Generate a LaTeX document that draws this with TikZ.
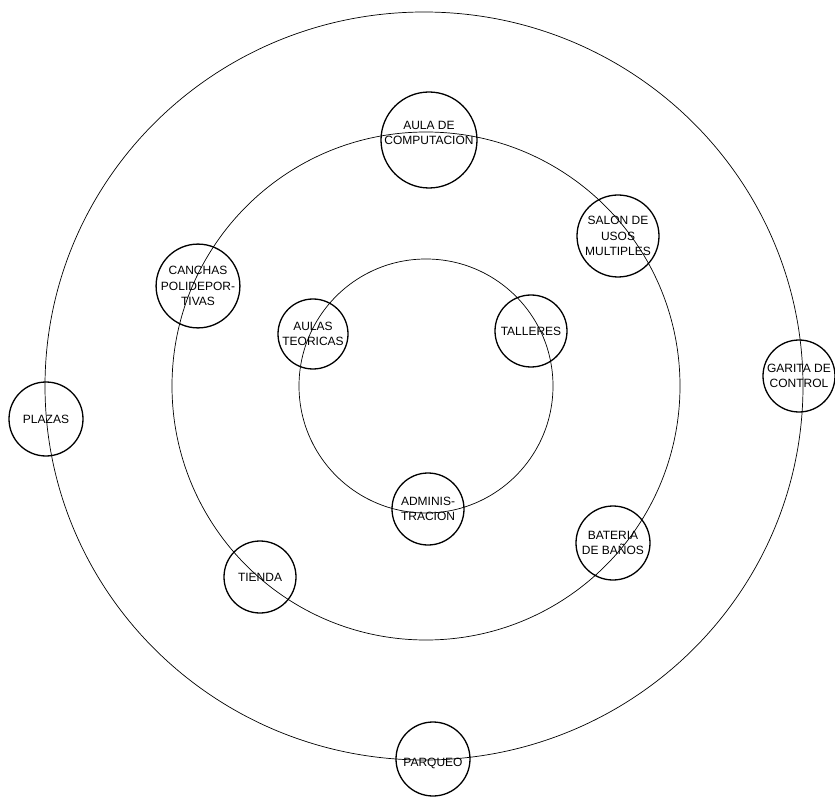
\documentclass[tikz,border=0pt]{standalone}
\usepackage{fontspec}
\setmainfont{Liberation Sans}
\begin{document}
\begin{tikzpicture}[x=1pt,y=-1pt,
  ring/.style={draw, line width=0.7pt},
  lbl/.style={align=center, inner sep=0pt, font=\fontsize{12}{15.5}\selectfont},
  place/.style={draw, circle, line width=1.3pt, inner sep=0pt, lbl},
]
\useasboundingbox (0,0) rectangle (835,799);
\draw[ring] (424,386) ellipse [x radius=379, y radius=374];
\draw[ring] (426,386) circle [radius=254];
\draw[ring] (426,386) circle [radius=127];

\node[place, minimum size=96pt] (aula) at (429,140) {};
\node[lbl] (aulat) at (429,133) {AULA DE\\COMPUTACION};
\node[place, minimum size=82pt] (salon) at (618,236) {SALON DE\\USOS\\MULTIPLES};
\node[place, minimum size=80pt] (canchas) at (198,286) {CANCHAS\\POLIDEPOR-\\TIVAS};
\node[place, minimum size=70pt] (teoricas) at (313,334) {AULAS\\TEORICAS};
\node[place, minimum size=72pt] (talleres) at (531,331) {TALLERES};
\node[place, minimum size=72pt] (garita) at (799,376) {GARITA DE\\CONTROL};
\node[place, minimum size=74pt] (plazas) at (46,419) {PLAZAS};
\node[place, minimum size=72pt] (admin) at (428,509) {ADMINIS-\\TRACION};
\node[place, minimum size=74pt] (banos) at (613,543) {BATERIA\\DE BAÑOS};
\node[place, minimum size=72pt] (tienda) at (260,577) {TIENDA};
\node[place, minimum size=74pt] (parqueo) at (433,759) {};
\node[lbl] (parqueot) at (433,763) {PARQUEO};
\end{tikzpicture}
\end{document}
